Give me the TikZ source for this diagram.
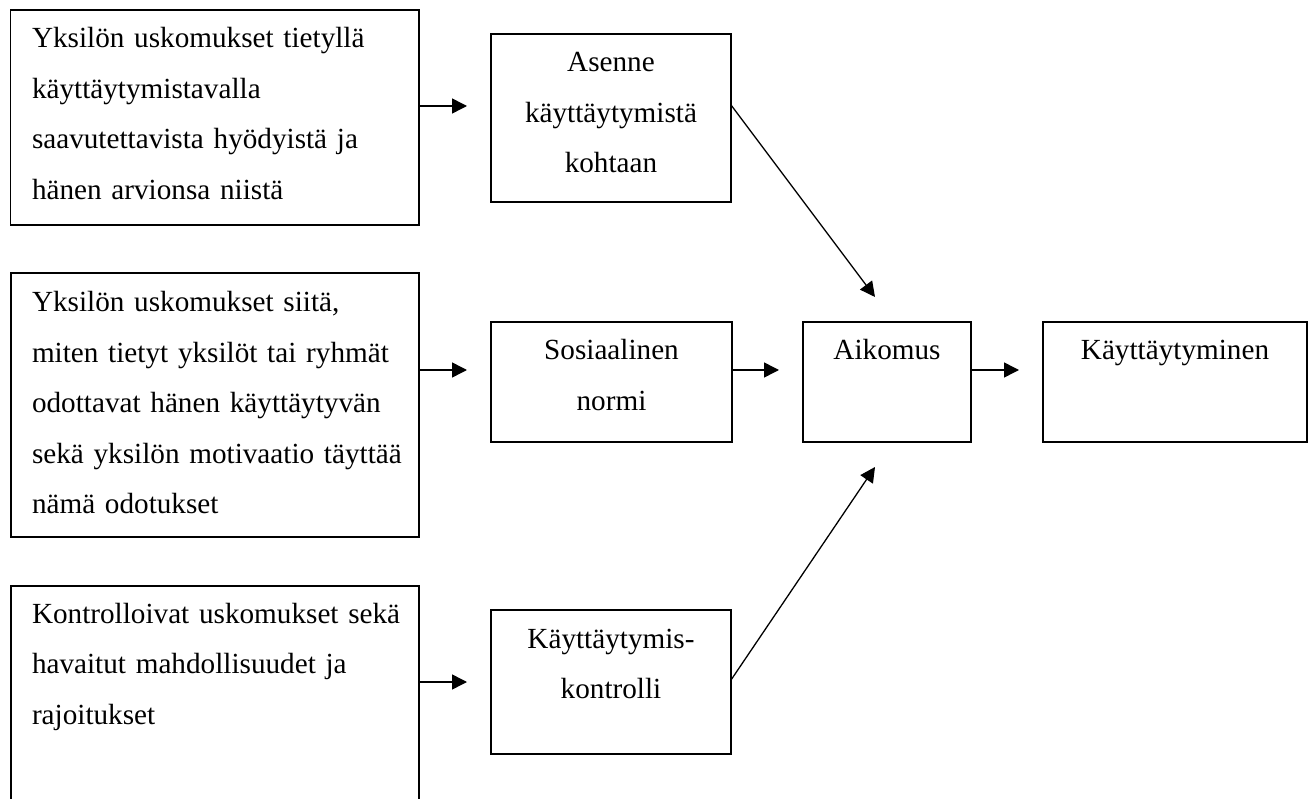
\documentclass[tikz,border=0pt]{standalone}
\usepackage{fontspec}
\setmainfont{Liberation Serif}
\usetikzlibrary{arrows.meta}
\tikzset{
  box/.style={draw=black, line width=1.8pt, rectangle, inner sep=0pt, outer sep=0pt},
  txt/.style={inner sep=0pt, outer sep=0pt, font=\fontsize{29.2}{50.5}\selectfont},
  ltxt/.style={txt, anchor=north west, text width=390pt, align=left},
  ctxt/.style={txt, anchor=north, text width=300pt, align=center},
  arr/.style={line width=1.5pt, -{Triangle[length=15pt,width=15pt]}},
  darr/.style={line width=1.3pt, -{Triangle[length=15pt,width=15pt]}},
}
\begin{document}
\begin{tikzpicture}[x=1pt,y=-1pt]
\useasboundingbox (0,0) rectangle (1312,799);
% boxes
\node[box, minimum width=408.5pt, minimum height=215pt] (b1) at (214.75,117.5) {};
\node[box, minimum width=408pt, minimum height=264pt] (b2) at (215,405) {};
\node[box, minimum width=408pt, minimum height=219pt] (b3) at (215,695.5) {};
\node[box, minimum width=240pt, minimum height=168pt] (as) at (611,118) {};
\node[box, minimum width=241pt, minimum height=120pt] (so) at (611.5,382) {};
\node[box, minimum width=240pt, minimum height=144pt] (ko) at (611,682) {};
\node[box, minimum width=168pt, minimum height=120pt] (ai) at (887,382) {};
\node[box, minimum width=264pt, minimum height=120pt] (ky) at (1175,382) {};
% texts
\node[ltxt] (t1) at (32,12.65) {\strut Yksilön uskomukset tietyllä\\ käyttäytymistavalla\\ saavutettavista hyödyistä ja\\ hänen arvionsa niistä};
\node[ltxt] (t2) at (32,276.65) {\strut Yksilön uskomukset siitä,\\ miten tietyt yksilöt tai ryhmät\\ odottavat hänen käyttäytyvän\\ sekä yksilön motivaatio täyttää\\ nämä odotukset};
\node[ltxt] (t3) at (32,587.65) {\strut Kontrolloivat uskomukset sekä\\ havaitut mahdollisuudet ja\\ rajoitukset};
\node[ctxt] (tas) at (611,36.65) {\strut Asenne\\ käyttäytymistä\\ kohtaan};
\node[ctxt] (tso) at (611.5,324.65) {\strut Sosiaalinen\\ normi};
\node[ctxt] (tko) at (611,612.65) {\strut Käyttäytymis-\\ kontrolli};
\node[ctxt] (tai) at (887,324.65) {\strut Aikomus};
\node[ctxt] (tky) at (1175,324.65) {\strut Käyttäytyminen};
% arrow end points
\coordinate (e1) at (467,106);
\coordinate (e2) at (467,370);
\coordinate (e3) at (467,682);
\coordinate (e4) at (779,370);
\coordinate (e5) at (1019,370);
\coordinate (d1) at (875,297);
\coordinate (d2) at (875,467);
\coordinate (s1) at (732,105);
\coordinate (s2) at (732,680);
% connectors
\draw[arr] (b1.east |- e1) -- (e1);
\draw[arr] (b2.east |- e2) -- (e2);
\draw[arr] (b3.east |- e3) -- (e3);
\draw[arr] (so.east |- e4) -- (e4);
\draw[arr] (ai.east |- e5) -- (e5);
\draw[darr] (as.east |- s1) -- (d1);
\draw[darr] (ko.east |- s2) -- (d2);
\end{tikzpicture}
\end{document}
